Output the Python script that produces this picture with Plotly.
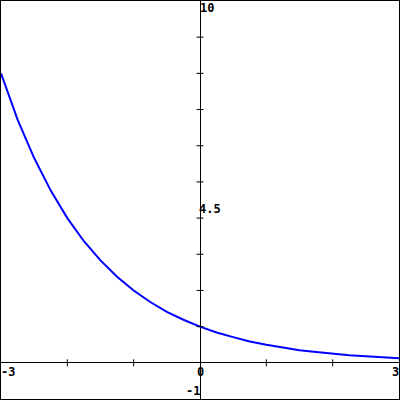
import plotly.graph_objects as go

# Curve values
x_vals = [-3.0, -2.75, -2.5, -2.25, -2.0, -1.75, -1.5, -1.25, -1.0, -0.75, -0.5, -0.25,
          0.0, 0.25, 0.5, 0.75, 1.0, 1.25, 1.5, 1.75, 2.0, 2.25, 2.5, 2.75, 3.0]
y_vals = [8.0, 6.72, 5.66, 4.76, 4.0, 3.36, 2.83, 2.38, 2.0, 1.68, 1.41, 1.19,
          1.0, 0.84, 0.71, 0.59, 0.5, 0.42, 0.35, 0.3, 0.25, 0.21, 0.18, 0.15, 0.125]

# Axis ticks / labels
y_ticks = [1, 2, 3, 4, 5, 6, 7, 8, 9]
x_ticks = [-2, -1, 1, 2]
x_range = [-3, 3]
y_range = [-1, 10]

fig = go.Figure()

fig.add_trace(go.Scatter(x=x_vals, y=y_vals, mode="lines",
                         line=dict(color="#0000ff", width=2), hoverinfo="skip"))

fig.add_trace(go.Scatter(x=[0] * len(y_ticks), y=y_ticks, mode="markers",
                         marker=dict(symbol="line-ew", size=5,
                                     line=dict(color="black", width=1)),
                         hoverinfo="skip"))
fig.add_trace(go.Scatter(x=x_ticks, y=[0] * len(x_ticks), mode="markers",
                         marker=dict(symbol="line-ns", size=5,
                                     line=dict(color="black", width=1)),
                         hoverinfo="skip"))

font = dict(family="DejaVu Sans Mono", size=12, color="black")
labels = [
    dict(x=0, y=y_range[1], text="<b>10</b>", xanchor="left", yanchor="top", xshift=-1, yshift=1),
    dict(x=0, y=4.5, text="<b>4.5</b>", xanchor="left", yanchor="top", xshift=-2, yshift=-1),
    dict(x=x_range[0], y=0, text="<b>-3</b>", xanchor="left", yanchor="top", xshift=-1, yshift=-1),
    dict(x=0, y=0, text="<b>0</b>", xanchor="center", yanchor="top", yshift=-1),
    dict(x=x_range[1], y=0, text="<b>3</b>", xanchor="right", yanchor="top", xshift=1, yshift=-1),
    dict(x=0, y=y_range[0], text="<b>-1</b>", xanchor="right", yanchor="bottom", xshift=1, yshift=0),
]
for a in labels:
    fig.add_annotation(showarrow=False, font=font, xref="x", yref="y", borderpad=0, **a)

axis_common = dict(showgrid=False, showticklabels=False, ticks="",
                   zeroline=True, zerolinecolor="black", zerolinewidth=1,
                   showline=True, linecolor="black", linewidth=1, mirror=True,
                   fixedrange=True)
fig.update_xaxes(range=x_range, **axis_common)
fig.update_yaxes(range=y_range, **axis_common)

fig.update_layout(width=400, height=400,
                  margin=dict(l=1, r=1, t=1, b=1, pad=0, autoexpand=False),
                  paper_bgcolor="white", plot_bgcolor="white", showlegend=False)

fig.write_html("out.html", config={"displayModeBar": False},
               post_script="document.body.style.margin='0';document.body.style.padding='0';")
